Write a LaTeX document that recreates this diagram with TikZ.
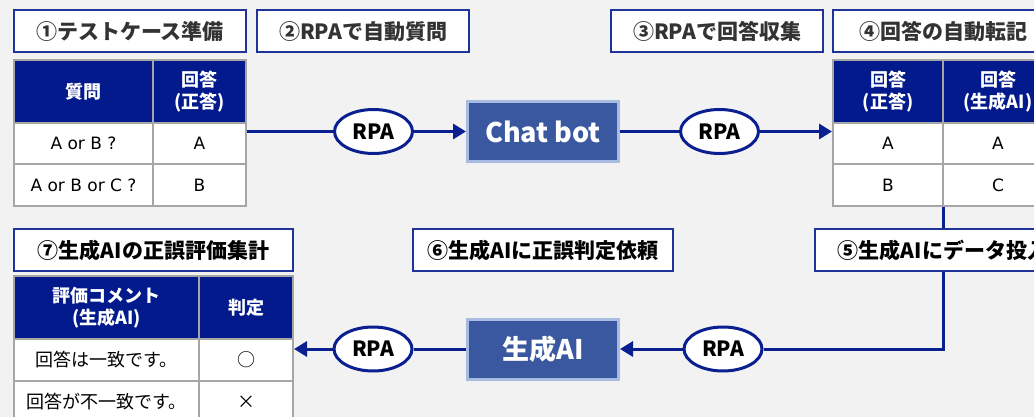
\documentclass[tikz,border=0pt]{standalone}
\usepackage{fontspec}
\setmainfont{Noto Sans CJK JP}
\newfontfamily\latinfont{DejaVu Sans}
\usepackage{tikz}
\usetikzlibrary{shapes.geometric,arrows.meta}

\definecolor{navyline}{HTML}{0A2090}
\definecolor{headnavy}{HTML}{021A8C}
\definecolor{titleline}{HTML}{1F3399}
\definecolor{cellgray}{HTML}{A6A6A6}
\definecolor{boxfill}{HTML}{3A58A0}
\definecolor{boxedge}{HTML}{A8BCE2}
\definecolor{bggray}{HTML}{F2F2F2}
\definecolor{titletext}{HTML}{333333}

\tikzset{
  titlebox/.style={draw=titleline, line width=2pt, fill=white, minimum height=42, inner sep=0pt, font=\bfseries\fontsize{21}{25}\selectfont, text=titletext},
  headcell/.style={draw=cellgray, line width=2pt, fill=headnavy, text=white, align=center, inner sep=0pt, font=\bfseries\fontsize{18}{22}\selectfont},
  bodycell/.style={draw=cellgray, line width=2pt, fill=white, text=black, inner sep=0pt, font=\fontsize{18}{22}\selectfont},
  latincell/.style={bodycell, font=\latinfont\fontsize{17}{22}\selectfont},
  rpa/.style={ellipse, draw=navyline, line width=3pt, fill=white, minimum width=78, minimum height=44, inner sep=0pt, font=\bfseries\fontsize{21}{24}\selectfont},
  aibox/.style={draw=boxedge, line width=3pt, fill=boxfill, text=white, minimum width=151, minimum height=60, font=\bfseries\fontsize{27}{30}\selectfont},
  flow/.style={draw=navyline, line width=3pt},
  flowarrow/.style={flow, -{Triangle[length=13pt,width=15pt]}},
}

\begin{document}
\begin{tikzpicture}[x=1pt, y=-1pt]

   \path[use as bounding box, clip] (0,0) rectangle (1034,417);
   \fill[bggray] (0,0) rectangle (1034,417);

   % step titles
   \node[titlebox, minimum width=232] (s1) at (130,31.5) {①テストケース準備};
   \node[titlebox, minimum width=212] (s2) at (363,31.5) {②RPAで自動質問};
   \node[titlebox, minimum width=212] (s3) at (717,31.5) {③RPAで回答収集};
   \node[titlebox, minimum width=220] (s4) at (943,31.5) {④回答の自動転記};
   \node[titlebox, minimum width=256, text=black] (s5) at (943,250) {⑤生成AIにデータ投入};
   \node[titlebox, minimum width=260, text=black] (s6) at (543,250) {⑥生成AIに正誤判定依頼};
   \node[titlebox, minimum width=279, text=black] (s7) at (153.5,250) {⑦生成AIの正誤評価集計};

   % test cases
   \node[headcell, minimum width=139, minimum height=63] (q1h) at (83.5,91.5) {質問};
   \node[headcell, minimum width=93, minimum height=63] (q2h) at (199.5,91.5) {回答\\(正答)};
   \node[latincell, minimum width=139, minimum height=41.5] (q1a) at (83.5,143.75) {A or B ?};
   \node[latincell, minimum width=93, minimum height=41.5] (q2a) at (199.5,143.75) {A};
   \node[latincell, minimum width=139, minimum height=41.5] (q1b) at (83.5,185.25) {A or B or C ?};
   \node[latincell, minimum width=93, minimum height=41.5] (q2b) at (199.5,185.25) {B};

   % collected answers
   \node[headcell, minimum width=110, minimum height=63] (k1h) at (888,91.5) {回答\\(正答)};
   \node[headcell, minimum width=110, minimum height=63] (k2h) at (998,91.5) {回答\\(生成AI)};
   \node[latincell, minimum width=110, minimum height=41.5] (k1a) at (888,143.75) {A};
   \node[latincell, minimum width=110, minimum height=41.5] (k2a) at (998,143.75) {A};
   \node[latincell, minimum width=110, minimum height=41.5] (k1b) at (888,185.25) {B};
   \node[latincell, minimum width=110, minimum height=41.5] (k2b) at (998,185.25) {C};

   % evaluation
   \node[headcell, minimum width=185, minimum height=63] (h1h) at (106.5,307.5) {評価コメント\\(生成AI)};
   \node[headcell, minimum width=94, minimum height=63] (h2h) at (246,307.5) {判定};
   \node[bodycell, minimum width=185, minimum height=42] (h1a) at (106.5,360) {回答は一致です。};
   \node[bodycell, minimum width=94, minimum height=42] (h2a) at (246,360) {○};
   \node[bodycell, minimum width=185, minimum height=42] (h1b) at (106.5,402) {回答が不一致です。};
   \node[bodycell, minimum width=94, minimum height=42] (h2b) at (246,402) {×};

   % bots and RPA
   \node[aibox] (bot) at (543,131.5) {Chat bot};
   \node[aibox] (gen) at (543,349) {生成AI};
   \node[rpa] (r1) at (373.5,131.5) {RPA};
   \node[rpa] (r2) at (719.5,131.5) {RPA};
   \node[rpa] (r3) at (723,349) {RPA};
   \node[rpa] (r4) at (373,349) {RPA};

   \draw[flow] (r1.west -| q2a.east) -- (r1.west);
   \draw[flowarrow] (r1.east) -- (bot.west);
   \draw[flow] (bot.east) -- (r2.west);
   \draw[flowarrow] (r2.east) -- (r2.east -| k1a.west);
   \draw[flow] (s5.north |- k1b.south) -- (s5.north);
   \draw[flow] (s5.south) |- (r3.east);
   \draw[flowarrow] (r3.west) -- (gen.east);
   \draw[flow] (gen.west) -- (r4.east);
   \draw[flowarrow] (r4.west) -- (r4.west -| h2a.east);
\end{tikzpicture}
\end{document}
